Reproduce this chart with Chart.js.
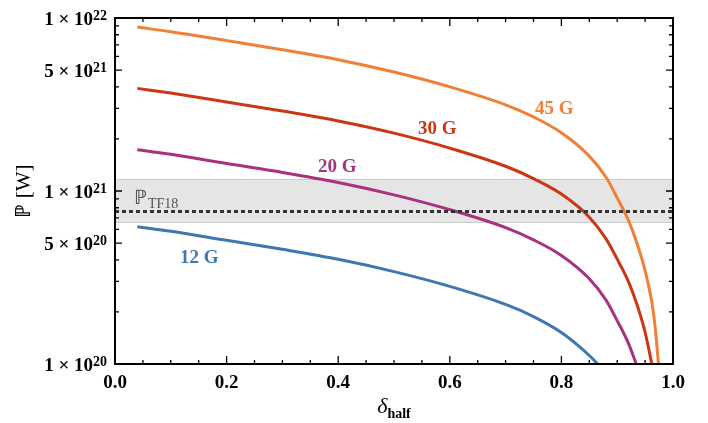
<!DOCTYPE html>
<html>
<head>
<meta charset="utf-8">
<script src="https://cdn.jsdelivr.net/npm/chart.js@4"></script>
<style>
  html, body { margin: 0; padding: 0; background: #fff; }
</style>
</head>
<body>
<canvas id="myChart" width="708" height="423"></canvas>
<script>
// curves: delta_half vs P [W]
const delta45 = [0.04, 0.1, 0.2, 0.3, 0.4, 0.5, 0.6, 0.7, 0.75, 0.8, 0.85, 0.88, 0.9, 0.92, 0.936, 0.95, 0.962, 0.968, 0.974];
const p45     = [8.86e21, 8.33e21, 7.40e21, 6.56e21, 5.74e21, 4.87e21, 4.00e21, 3.15e21, 2.68e21, 2.17e21, 1.59e21, 1.20e21, 9.13e20, 6.78e20, 4.92e20, 3.46e20, 2.28e20, 1.64e20, 1.0e20];

const delta30 = [0.04, 0.1, 0.2, 0.3, 0.4, 0.5, 0.6, 0.7, 0.75, 0.8, 0.85, 0.88, 0.9, 0.92, 0.936, 0.95, 0.962];
const p30     = [3.92e21, 3.68e21, 3.27e21, 2.90e21, 2.54e21, 2.16e21, 1.77e21, 1.39e21, 1.18e21, 9.6e20, 7.06e20, 5.29e20, 4.04e20, 3.0e20, 2.18e20, 1.53e20, 1.0e20];

const delta20 = [0.04, 0.1, 0.2, 0.3, 0.4, 0.5, 0.6, 0.7, 0.75, 0.8, 0.85, 0.88, 0.9, 0.92, 0.934];
const p20     = [1.73e21, 1.63e21, 1.44e21, 1.28e21, 1.12e21, 9.5e20, 7.8e20, 6.14e20, 5.22e20, 4.24e20, 3.11e20, 2.34e20, 1.78e20, 1.32e20, 1.0e20];

const delta12 = [0.04, 0.1, 0.2, 0.3, 0.4, 0.5, 0.6, 0.7, 0.75, 0.8, 0.85, 0.865];
const p12     = [6.22e20, 5.85e20, 5.19e20, 4.60e20, 4.03e20, 3.42e20, 2.81e20, 2.21e20, 1.88e20, 1.52e20, 1.12e20, 1.0e20];

const seriesNames = ["45 G", "30 G", "20 G", "12 G"];
const seriesColors = ["#EF8036", "#CC3713", "#A8327D", "#3F78B1"];

// P_TF18 reference and its band
const pTF18 = 7.6e20;
const bandLow = 6.6e20;
const bandHigh = 1.17e21;

// tick values / labels
const yMajor = [1e20, 5e20, 1e21, 5e21, 1e22];
const yMant  = ["1", "5", "1", "5", "1"];
const yExp   = ["20", "20", "21", "21", "22"];
const yMinor = [2e20, 3e20, 4e20, 6e20, 7e20, 8e20, 9e20, 2e21, 3e21, 4e21, 6e21, 7e21, 8e21, 9e21];
const xMajor = [0, 0.2, 0.4, 0.6, 0.8, 1.0];
const xMinor = [0.05, 0.1, 0.15, 0.25, 0.3, 0.35, 0.45, 0.5, 0.55, 0.65, 0.7, 0.75, 0.85, 0.9, 0.95];

const serif = '"Liberation Serif", "Times New Roman", serif';

function pts(xs, ys) {
  return xs.map((v, i) => ({x: v, y: ys[i]}));
}

const allDelta = [delta45, delta30, delta20, delta12];
const allP = [p45, p30, p20, p12];

const datasets = seriesNames.map((n, i) => ({
  label: n,
  data: pts(allDelta[i], allP[i]),
  borderColor: seriesColors[i],
  borderWidth: 3,
  pointRadius: 0,
  fill: false,
  cubicInterpolationMode: 'monotone'
}));

const decor = {
  id: 'decor',
  beforeDatasetsDraw(chart) {
    const {ctx, chartArea: a, scales: {y}} = chart;
    const t = y.getPixelForValue(bandHigh);
    const b = y.getPixelForValue(bandLow);
    ctx.save();
    ctx.fillStyle = '#e5e5e5';
    ctx.fillRect(a.left, t, a.right - a.left, b - t);
    ctx.strokeStyle = '#cccccc';
    ctx.lineWidth = 1;
    ctx.beginPath();
    ctx.moveTo(a.left, Math.round(t) + 0.5); ctx.lineTo(a.right, Math.round(t) + 0.5);
    ctx.moveTo(a.left, Math.round(b) + 0.5); ctx.lineTo(a.right, Math.round(b) + 0.5);
    ctx.stroke();
    ctx.restore();
  },
  afterDatasetsDraw(chart) {
    const {ctx, chartArea: a, scales: {x, y}} = chart;
    ctx.save();

    // dotted P_TF18 line
    const py = y.getPixelForValue(pTF18);
    ctx.strokeStyle = '#333333';
    ctx.lineWidth = 3;
    ctx.setLineDash([4, 3]);
    ctx.beginPath();
    ctx.moveTo(a.left, py); ctx.lineTo(a.right, py);
    ctx.stroke();
    ctx.setLineDash([]);

    // P_TF18 label
    ctx.fillStyle = '#555555';
    ctx.textAlign = 'left';
    ctx.textBaseline = 'alphabetic';
    ctx.font = '20px ' + serif;
    ctx.fillText('\u2119', 134, 204);
    const w = ctx.measureText('\u2119').width;
    ctx.font = '14px ' + serif;
    ctx.fillText('TF18', 135 + w, 208);

    // curve labels
    const labelPos = [[535, 114], [418, 134], [318, 172], [180, 263]];
    ctx.font = 'bold 19px ' + serif;
    seriesNames.forEach((n, i) => {
      ctx.fillStyle = seriesColors[i];
      ctx.fillText(n, labelPos[i][0], labelPos[i][1]);
    });

    // frame
    ctx.strokeStyle = '#000';
    ctx.lineWidth = 2;
    ctx.strokeRect(a.left, a.top, a.right - a.left, a.bottom - a.top);

    // inward ticks
    ctx.lineWidth = 1.3;
    ctx.beginPath();
    yMajor.forEach(v => {
      const p = y.getPixelForValue(v);
      ctx.moveTo(a.left, p); ctx.lineTo(a.left + 7, p);
      ctx.moveTo(a.right, p); ctx.lineTo(a.right - 7, p);
    });
    yMinor.forEach(v => {
      const p = y.getPixelForValue(v);
      ctx.moveTo(a.left, p); ctx.lineTo(a.left + 4, p);
      ctx.moveTo(a.right, p); ctx.lineTo(a.right - 4, p);
    });
    xMajor.forEach(v => {
      const p = x.getPixelForValue(v);
      ctx.moveTo(p, a.bottom); ctx.lineTo(p, a.bottom - 8);
      ctx.moveTo(p, a.top); ctx.lineTo(p, a.top + 8);
    });
    xMinor.forEach(v => {
      const p = x.getPixelForValue(v);
      ctx.moveTo(p, a.bottom); ctx.lineTo(p, a.bottom - 4);
      ctx.moveTo(p, a.top); ctx.lineTo(p, a.top + 4);
    });
    ctx.stroke();

    // y tick labels: m x 10^e
    ctx.fillStyle = '#000';
    yMajor.forEach((v, i) => {
      const p = y.getPixelForValue(v);
      ctx.font = 'bold 19px ' + serif;
      ctx.textAlign = 'right';
      ctx.fillText(yMant[i] + ' \u00d7 10', 93, p + 7);
      ctx.font = 'bold 14px ' + serif;
      ctx.textAlign = 'left';
      ctx.fillText(yExp[i], 93, p + 2);
    });

    // axis titles
    ctx.textAlign = 'left';
    ctx.font = 'italic 22px ' + serif;
    const dw = ctx.measureText('\u03b4').width;
    ctx.font = 'bold 14px ' + serif;
    const hw = ctx.measureText('half').width;
    const cx = (a.left + a.right) / 2 - (dw + hw) / 2;
    ctx.font = 'italic 22px ' + serif;
    ctx.fillText('\u03b4', cx, 413);
    ctx.font = 'bold 14px ' + serif;
    ctx.fillText('half', cx + dw, 418);

    ctx.translate(24, (a.top + a.bottom) / 2);
    ctx.rotate(-Math.PI / 2);
    ctx.textAlign = 'center';
    ctx.textBaseline = 'middle';
    ctx.font = '21px ' + serif;
    ctx.fillText('\u2119 [W]', 0, 0);

    ctx.restore();
  }
};

new Chart('myChart', {
  type: 'line',
  data: { datasets: datasets },
  options: {
    responsive: false,
    animation: false,
    layout: { padding: { top: 18, right: 35, left: 0, bottom: 0 } },
    plugins: { legend: { display: false }, tooltip: { enabled: false } },
    scales: {
      x: {
        type: 'linear',
        min: 0,
        max: 1,
        grid: { display: false, drawTicks: false },
        border: { display: false },
        ticks: {
          stepSize: 0.2,
          autoSkip: false,
          maxRotation: 0,
          padding: 8,
          color: '#000',
          font: { family: serif, size: 19, weight: 'bold' },
          callback: v => Number(v).toFixed(1)
        },
        afterFit: s => { s.height = 59; }
      },
      y: {
        type: 'logarithmic',
        min: 1e20,
        max: 1e22,
        grid: { display: false, drawTicks: false },
        border: { display: false },
        ticks: { display: false },
        afterFit: s => { s.width = 115; }
      }
    }
  },
  plugins: [decor]
});
</script>
</body>
</html>
